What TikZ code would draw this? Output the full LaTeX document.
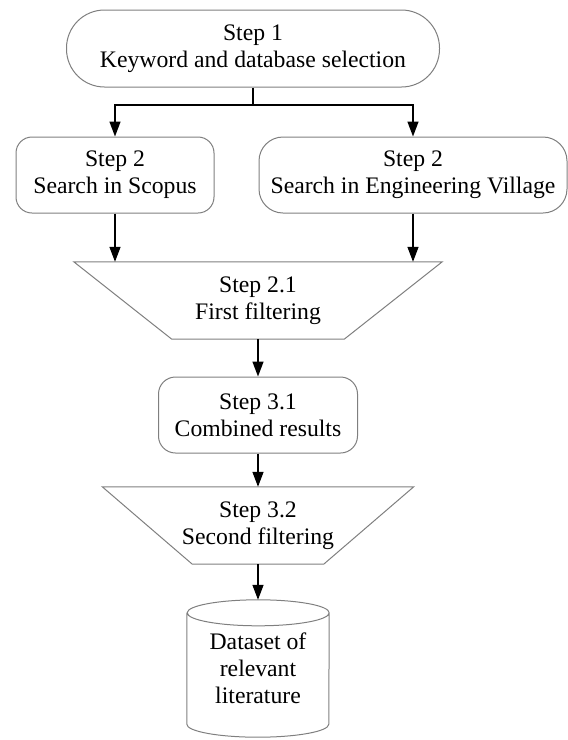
\documentclass[tikz,border=0pt]{standalone}
\usepackage{fontspec}
\setmainfont{Liberation Serif}
\usepackage{tikz}
\usetikzlibrary{positioning}
\usetikzlibrary{arrows.meta}

\definecolor{boxgray}{HTML}{7F7F7F}

\tikzset{
    box/.style={draw=boxgray, line width=1pt},
    txt/.style={inner sep=0pt, align=center, font=\fontsize{23.7pt}{27pt}\selectfont},
    stepbox/.style={txt, box, minimum height=76pt},
    arr/.style={draw=black, line width=1.4pt, -{Triangle[length=15pt,width=11pt]}}
}

\begin{document}
\begin{tikzpicture}[x=1pt, y=1pt]
    \useasboundingbox (0,0) rectangle (568,-740);

    % Steps 1 and 2
    \node[stepbox, minimum width=373pt, minimum height=77pt, rounded corners=38pt] (kw) at (253,-48.5)
        {Step 1\\Keyword and database selection};
    \node[stepbox, minimum width=198pt, rounded corners=16pt] (scopus) at (115,-175)
        {Step 2\\Search in Scopus};
    \node[stepbox, minimum width=308pt, rounded corners=24pt] (village) at (413,-175)
        {Step 2\\Search in Engineering Village};

    % First filtering
    \node[txt, minimum width=368pt, minimum height=77pt] (filter1) at (258,-300.5)
        {Step 2.1\\First filtering};
    \draw[box] (filter1.north west) -- (filter1.north east)
        -- ([xshift=-98pt]filter1.south east) -- ([xshift=98pt]filter1.south west) -- cycle;

    % Combined results
    \node[stepbox, minimum width=199pt, rounded corners=17pt] (combined) at (258,-415)
        {Step 3.1\\Combined results};

    % Second filtering
    \node[txt, minimum width=311pt, minimum height=77pt] (filter2) at (258,-525.5)
        {Step 3.2\\Second filtering};
    \draw[box] (filter2.north west) -- (filter2.north east)
        -- ([xshift=-90pt]filter2.south east) -- ([xshift=90pt]filter2.south west) -- cycle;

    % Dataset cylinder
    \node[txt, minimum width=142pt, minimum height=111pt] (dataset) at (258,-668.5)
        {Dataset of\\relevant\\literature};
    \draw[box] (dataset.north west) -- (dataset.south west)
        arc[start angle=180, end angle=360, x radius=71pt, y radius=13pt]
        -- (dataset.north east)
        arc[start angle=0, end angle=360, x radius=71pt, y radius=13pt];

    % Connectors
    \coordinate (split) at (253,-105);
    \draw[line width=1.4pt] (kw.south) -- (split);
    \draw[arr] (split) -| (scopus.north);
    \draw[arr] (split) -| (village.north);
    \draw[arr] (scopus.south) -- (scopus.south |- filter1.north);
    \draw[arr] (village.south) -- (village.south |- filter1.north);
    \draw[arr] (filter1.south) -- (combined.north);
    \draw[arr] (combined.south) -- (filter2.north);
    \draw[arr] (filter2.south) -- ([yshift=13pt]dataset.north);

\end{tikzpicture}
\end{document}
